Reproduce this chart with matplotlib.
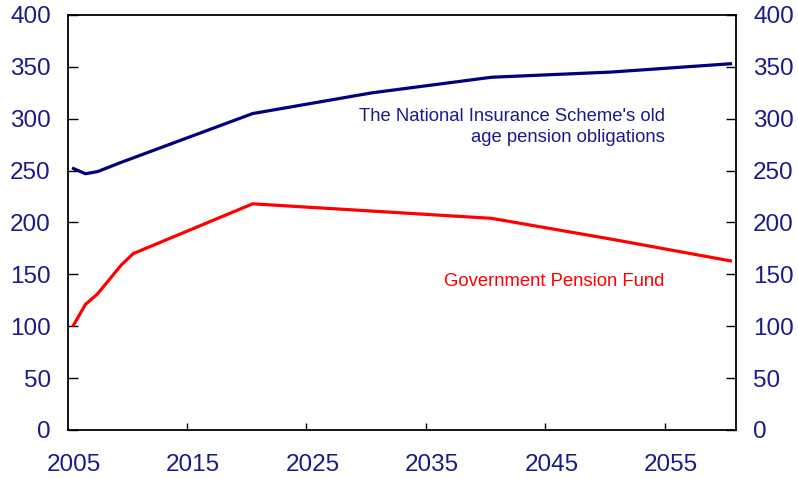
import matplotlib
matplotlib.use("Agg")
import matplotlib.pyplot as plt

plt.rcParams["font.family"] = ["Liberation Sans", "DejaVu Sans"]

# ── Data ───────
years_nis = [2005, 2006, 2007, 2009, 2020, 2030, 2040, 2050, 2060]
nis       = [252,  247,  249,  258,  305,  325,  340,  345,  353]

years_gpf = [2005, 2006, 2007, 2009, 2010, 2020, 2040, 2050, 2060]
gpf       = [101,  121,  131,  159,  170,  218,  204,  184,  163]

xtick_years = [2005, 2015, 2025, 2035, 2045, 2055]
yticks      = [0, 50, 100, 150, 200, 250, 300, 350, 400]

C_NAVY = "#000080"
C_RED  = "#FF0000"
C_TXT  = "#1A1A8C"

fig = plt.figure(figsize=(7.98, 4.79), dpi=100, facecolor="white")
ax = fig.add_axes([0.0846, 0.1023, 0.8383, 0.8664])

ax.plot(years_nis, nis, color=C_NAVY, linewidth=2.3, solid_joinstyle="miter")
ax.plot(years_gpf, gpf, color=C_RED, linewidth=2.3, solid_joinstyle="miter")

ax.set_xlim(2004.5, 2060.5)
ax.set_ylim(0, 400)

# category-style axis: labels centred on years, ticks between them
ax.set_xticks(xtick_years)
ax.set_xticklabels([str(y) for y in xtick_years])
ax.set_xticks([y - 0.5 for y in xtick_years[1:]], minor=True)
ax.tick_params(axis="x", which="major", length=0, pad=17,
               labelsize=17.5, labelcolor=C_TXT)
ax.tick_params(axis="x", which="minor", direction="in", length=5,
               width=1, color="black")

ax.set_yticks(yticks)
ax.tick_params(axis="y", which="major", direction="in", length=7, width=1,
               labelsize=17.5, labelcolor=C_TXT, pad=12,
               left=True, right=True, labelleft=True, labelright=True)

for s in ax.spines.values():
    s.set_color("black")
    s.set_linewidth(1.3)

ax.text(2054.5, 292, "The National Insurance Scheme's old\nage pension obligations",
        ha="right", va="center", fontsize=13.3, color=C_TXT, linespacing=1.3)
ax.text(2054.5, 143, "Government Pension Fund",
        ha="right", va="center", fontsize=13.3, color=C_RED)

fig.savefig("out.png", dpi=100, facecolor="white")
